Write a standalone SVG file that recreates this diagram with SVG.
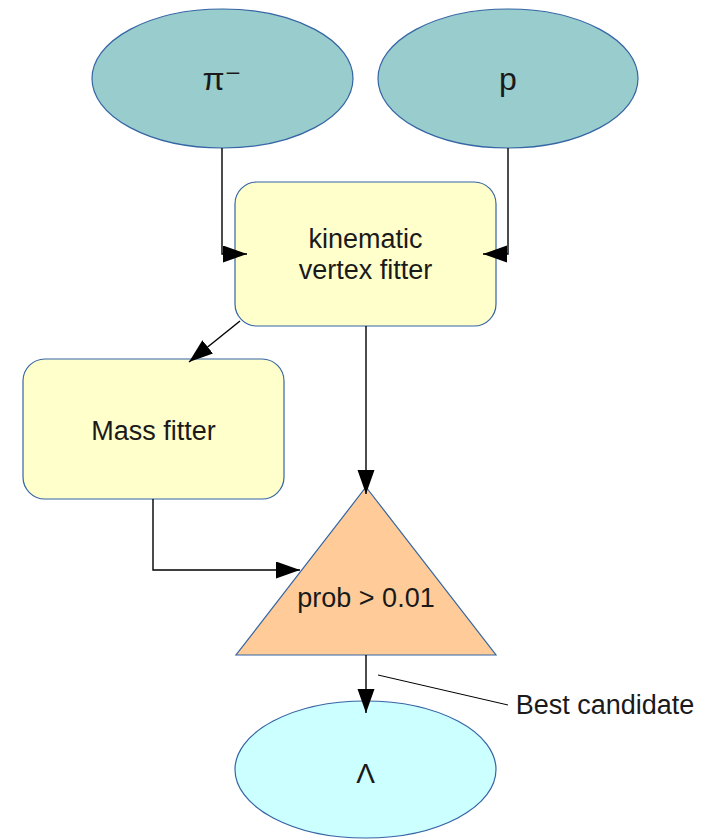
<svg xmlns="http://www.w3.org/2000/svg" width="709" height="839" viewBox="0 0 709 839">
<style>
.lbl{font-family:"Liberation Sans","DejaVu Sans",Arial,sans-serif;font-size:27px;fill:#1a1a1a;text-anchor:middle}
.big{font-size:32px}
.shape{stroke:#3465a4;stroke-width:1.2}
.conn{fill:none;stroke:#000;stroke-width:1.4}
</style>
<defs>
<marker id="arr" markerUnits="userSpaceOnUse" markerWidth="26" markerHeight="18" refX="24" refY="8.5" orient="auto">
<path d="M0,0 L24,8.5 L0,17 z" fill="#000"/>
</marker>
</defs>
<g id="pi_minus">
<ellipse class="shape" cx="222.5" cy="78.5" rx="130.5" ry="69.5" fill="#99cccc"/>
<text class="lbl big" x="222" y="90">π⁻</text>
</g>
<g id="proton">
<ellipse class="shape" cx="508" cy="78.5" rx="130" ry="69.5" fill="#99cccc"/>
<text class="lbl big" x="508" y="90">p</text>
</g>
<g id="kinematic_vertex_fitter">
<rect class="shape" x="235" y="182" width="261" height="144" rx="22" ry="22" fill="#ffffcc"/>
<text class="lbl" x="365.5" y="248">kinematic</text>
<text class="lbl" x="365.5" y="279">vertex fitter</text>
</g>
<g id="mass_fitter">
<rect class="shape" x="23" y="359" width="261" height="140" rx="22" ry="22" fill="#ffffcc"/>
<text class="lbl" x="153.5" y="440">Mass fitter</text>
</g>
<g id="prob_cut">
<path class="shape" d="M366,487 L496,655 L236,655 z" fill="#ffcc99"/>
<text class="lbl" x="366" y="607">prob &gt; 0.01</text>
</g>
<g id="lambda">
<ellipse class="shape" cx="365.5" cy="769.5" rx="130.5" ry="68.5" fill="#ccffff"/>
<text class="lbl" x="365.5" y="783" style="font-size:28px">Λ</text>
</g>
<g id="best_candidate_label">
<text class="lbl" x="605" y="714">Best candidate</text>
</g>
<g id="connectors">
<path class="conn" d="M222,148 V254 H247" marker-end="url(#arr)"/>
<path class="conn" d="M508,148 V254 H483" marker-end="url(#arr)"/>
<path class="conn" d="M240,321 L189,362" marker-end="url(#arr)"/>
<path class="conn" d="M366,326 V494" marker-end="url(#arr)"/>
<path class="conn" d="M153,499 V570 H300" marker-end="url(#arr)"/>
<path class="conn" d="M366,655 V713" marker-end="url(#arr)"/>
<path d="M378,675 L508,705" stroke="#000" stroke-width="1" fill="none"/>
</g>
</svg>
